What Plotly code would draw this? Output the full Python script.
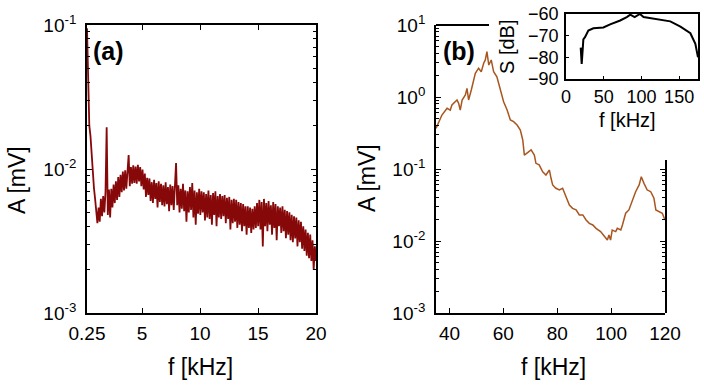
import numpy as np
import plotly.graph_objects as go

W, H = 704, 385
FONT = "Liberation Sans, Arial, Helvetica, sans-serif"

# ---------------- data ----------------
# panel (a): amplitude spectrum, values in microvolts
amp_a_uV = [
    95, 30, 20, 17, 12, 9.5, 7.4, 6.2, 5.0, 4.2,
    5.4, 4.3, 6.2, 4.7, 6.5, 5.0, 6.9, 19.5, 4.8, 7.2,
    4.6, 7.3, 5.4, 7.8, 5.8, 8.2, 6.1, 8.8, 6.4, 9.1,
    6.9, 9.6, 7.1, 9.8, 7.3, 10.2, 12.5, 7.6, 10.3, 7.9,
    10.6, 8.0, 10.4, 7.9, 10.7, 8.2, 10.3, 7.6, 9.9, 7.2,
    9.3, 6.4, 8.7, 6.6, 8.6, 6.0, 8.1, 5.8, 8.4, 6.2,
    8.0, 5.4, 8.2, 5.9, 7.9, 5.6, 7.7, 5.5, 8.1, 5.7,
    7.5, 5.1, 7.8, 5.6, 7.6, 5.2, 7.4, 11.0, 5.6, 7.7,
    5.0, 7.3, 5.3, 7.9, 5.1, 7.1, 4.3, 7.0, 5.0, 7.5,
    5.2, 8.0, 4.6, 7.1, 4.1, 6.9, 4.9, 7.3, 4.8, 7.0,
    5.0, 6.9, 4.4, 6.7, 4.6, 7.1, 4.5, 6.6, 4.1, 6.8,
    4.8, 7.0, 4.0, 6.5, 4.6, 6.7, 4.5, 6.5, 4.7, 6.6,
    4.2, 6.3, 4.5, 6.4, 3.8, 6.1, 4.2, 6.2, 4.3, 6.1,
    3.9, 5.9, 4.1, 5.8, 3.7, 5.7, 4.0, 5.5, 3.5, 5.5,
    3.9, 5.4, 3.6, 5.3, 3.8, 5.5, 3.9, 5.8, 4.0, 6.1,
    3.8, 5.9, 2.9, 6.2, 4.0, 5.8, 3.7, 6.0, 4.1, 5.6,
    3.5, 5.9, 3.9, 5.7, 3.2, 5.5, 4.0, 5.4, 3.6, 5.5,
    3.7, 5.2, 3.3, 5.1, 3.5, 5.0, 3.2, 4.8, 3.1, 4.7,
    3.3, 4.6, 2.9, 4.4, 3.1, 4.3, 2.8, 4.0, 2.7, 3.8,
    2.5, 3.6, 2.4, 3.5, 2.3, 3.2, 2.0, 2.9, 2.3,
]
f_a_first, f_a_last = 0.25, 20.0  # kHz, uniform sampling grid of the spectrum
f_a = np.linspace(f_a_first, f_a_last, len(amp_a_uV))
amp_a = [v / 1000.0 for v in amp_a_uV]

# panel (b): amplitude spectrum (mV)
f_b = [35.0, 37.2, 39.1, 40.3, 40.9, 42.8, 43.4, 44.0, 44.7, 45.9,
       46.5, 47.1, 48.1, 49.6, 50.8, 51.8, 52.7, 53.3, 53.9, 54.6,
       55.5, 56.4, 57.6, 58.9, 60.1, 61.4, 62.6, 63.8, 65.1, 66.3,
       67.2, 67.8, 69.0, 70.3, 71.5, 72.1, 73.3, 74.6, 75.8, 77.1,
       77.7, 78.3, 79.5, 80.8, 82.0, 83.3, 84.5, 85.7, 87.0, 88.2,
       89.5, 90.7, 91.9, 93.2, 94.4, 96.1, 97.4, 98.6, 99.2, 99.8,
       100.4, 101.7, 102.3, 103.6, 104.2, 105.4, 106.6, 107.9, 109.1, 110.4,
       111.2, 112.2, 113.4, 114.7, 115.9, 116.6, 117.8, 119.0, 120.0]
amp_b = [0.367, 0.562, 0.697, 0.659, 0.774, 0.908, 0.817, 0.659, 0.908, 1.07,
         1.32, 0.908, 1.25, 2.13, 2.51, 2.24, 2.94, 3.27, 4.26, 2.78,
         3.27, 2.24, 1.91, 1.25, 0.861, 0.659, 0.480, 0.454, 0.408, 0.348,
         0.253, 0.156, 0.167, 0.184, 0.156, 0.120, 0.114, 0.0916, 0.0826, 0.0968,
         0.0743, 0.0600, 0.0540, 0.0511, 0.0540, 0.0412, 0.0316, 0.0284, 0.0270, 0.0230,
         0.0230, 0.0196, 0.0176, 0.0167, 0.0150, 0.0135, 0.0115, 0.0103, 0.0121, 0.0103,
         0.0142, 0.0135, 0.0150, 0.0142, 0.0167, 0.0243, 0.0270, 0.0371, 0.0484, 0.0600,
         0.0782, 0.0632, 0.0511, 0.0484, 0.0392, 0.0270, 0.0255, 0.0243, 0.0196]

# inset: S [dB] vs f [kHz]
f_inset = [19.5, 20.8, 22.2, 23.0, 25.2, 29.6, 36.3, 49.6, 58.5, 71.8,
           80.6, 85.2, 91.0, 98.0, 102.8, 124.8, 138.3, 151.7, 164.9, 171.5, 175.0]
s_inset = [-75.5, -83.0, -76.0, -71.7, -70.7, -67.6, -66.6, -66.2, -64.8, -63.0,
           -61.4, -60.3, -61.4, -60.0, -61.4, -62.5, -63.4, -65.8, -68.9, -73.8, -80.0]

xa_ticks = [0.25, 5, 10, 15, 20]
xa_labels = ["0.25", "5", "10", "15", "20"]
xb_ticks = [40, 60, 80, 100, 120]
ya_ticks = [1e-3, 1e-2, 1e-1]
ya_labels = ["10<sup>-3</sup>", "10<sup>-2</sup>", "10<sup>-1</sup>"]
yb_ticks = [1e-3, 1e-2, 1e-1, 1, 10]
yb_labels = ["10<sup>-3</sup>", "10<sup>-2</sup>", "10<sup>-1</sup>", "10<sup>0</sup>", "10<sup>1</sup>"]
xi_ticks = [0, 50, 100, 150]
yi_ticks = [-60, -70, -80, -90]

# ---------------- layout helpers ----------------
def px(x):
    return x / W

def py(y):
    return 1 - y / H

def minor_vals(lo, hi):
    return [m * 10.0 ** e for e in range(lo, hi) for m in range(2, 10)]

base = dict(showline=True, linecolor="black", linewidth=1.8, ticks="inside",
            ticklen=5, tickwidth=1.2, tickcolor="black", showgrid=False,
            zeroline=False, automargin=False,
            tickfont=dict(size=19, color="black", family=FONT))
minor_style = dict(ticks="inside", ticklen=3, tickwidth=1, tickcolor="black")

fig = go.Figure()
fig.add_trace(go.Scatter(x=f_a, y=amp_a, mode="lines", xaxis="x", yaxis="y",
                         line=dict(color="rgb(135,8,8)", width=1.8), showlegend=False))
fig.add_trace(go.Scatter(x=[None], y=[None], mode="lines", xaxis="x2", yaxis="y4",
                         showlegend=False, hoverinfo="skip"))
fig.add_trace(go.Scatter(x=f_b, y=amp_b, mode="lines", xaxis="x2", yaxis="y2",
                         line=dict(color="rgb(168,86,32)", width=1.5), showlegend=False))
fig.add_trace(go.Scatter(x=f_inset, y=s_inset, mode="lines", xaxis="x3", yaxis="y3",
                         line=dict(color="black", width=2), showlegend=False))

main_dom_y = [py(313), py(25)]
fig.update_layout(
    width=W, height=H, margin=dict(l=0, r=0, t=0, b=0, autoexpand=False),
    paper_bgcolor="white", plot_bgcolor="rgba(0,0,0,0)",
    font=dict(family=FONT, color="black"),
    xaxis=dict(base, domain=[px(87), px(316)], range=[0.25, 20], anchor="y",
               tickvals=xa_ticks, ticktext=xa_labels, mirror="ticks",
               ticklabelstandoff=2),
    yaxis=dict(base, domain=main_dom_y, type="log", range=[-3, -1], anchor="x",
               tickvals=ya_ticks, ticktext=ya_labels, mirror="ticks",
               minor=dict(minor_style, tickvals=minor_vals(-3, -1)),
               ticklabelstandoff=5),
    xaxis2=dict(base, domain=[px(436), px(665)], range=[35, 120], anchor="y2",
                tickvals=xb_ticks, ticklabelstandoff=2),
    yaxis2=dict(base, domain=main_dom_y, type="log", range=[-3, 1], anchor="x2",
                tickvals=yb_ticks, ticktext=yb_labels,
                minor=dict(minor_style, tickvals=minor_vals(-3, 1)),
                ticklabelstandoff=5),
    yaxis4=dict(base, domain=[py(313), py(160)], type="log",
                range=[-3, -3 + (313 - 160) / 72.0], anchor="x2", side="right",
                showticklabels=False, tickvals=[1e-3, 1e-2, 1e-1],
                minor=dict(minor_style, tickvals=minor_vals(-3, 0))),
    xaxis3=dict(base, domain=[px(566), px(698)], range=[0, 175], anchor="y3",
                tickvals=xi_ticks, mirror=True, ticklen=3,
                tickfont=dict(size=18, color="black", family=FONT),
                ticklabelstandoff=0),
    yaxis3=dict(base, domain=[py(79), py(14)], range=[-90, -60], anchor="x3",
                tickvals=yi_ticks, mirror=True, ticklen=3,
                tickfont=dict(size=18, color="black", family=FONT),
                ticklabelstandoff=2),
)

fig.add_shape(type="line", xref="x2 domain", yref="y2 domain",
              x0=0, x1=(489 - 436) / 229.0, y0=1, y1=1,
              line=dict(color="black", width=1.8))

def ann(text, x, y, size, angle=0, bold=False, xanchor="center"):
    fig.add_annotation(text=f"<b>{text}</b>" if bold else text,
                       x=px(x), y=py(y), xref="paper", yref="paper",
                       showarrow=False, textangle=angle, xanchor=xanchor,
                       yanchor="middle", font=dict(size=size, color="black", family=FONT))

ann("(a)", 91, 51, 25, bold=True, xanchor="left")
ann("(b)", 441, 51, 25, bold=True, xanchor="left")
ann("A [mV]", 17, 180, 23, angle=-90)
ann("A [mV]", 367, 178, 23, angle=-90)
ann("f [kHz]", 200, 367, 23)
ann("f [kHz]", 553, 367, 23)
ann("S [dB]", 507, 47, 20, angle=-90)
ann("f [kHz]", 627, 120, 20)

fig.write_html("out.html")
